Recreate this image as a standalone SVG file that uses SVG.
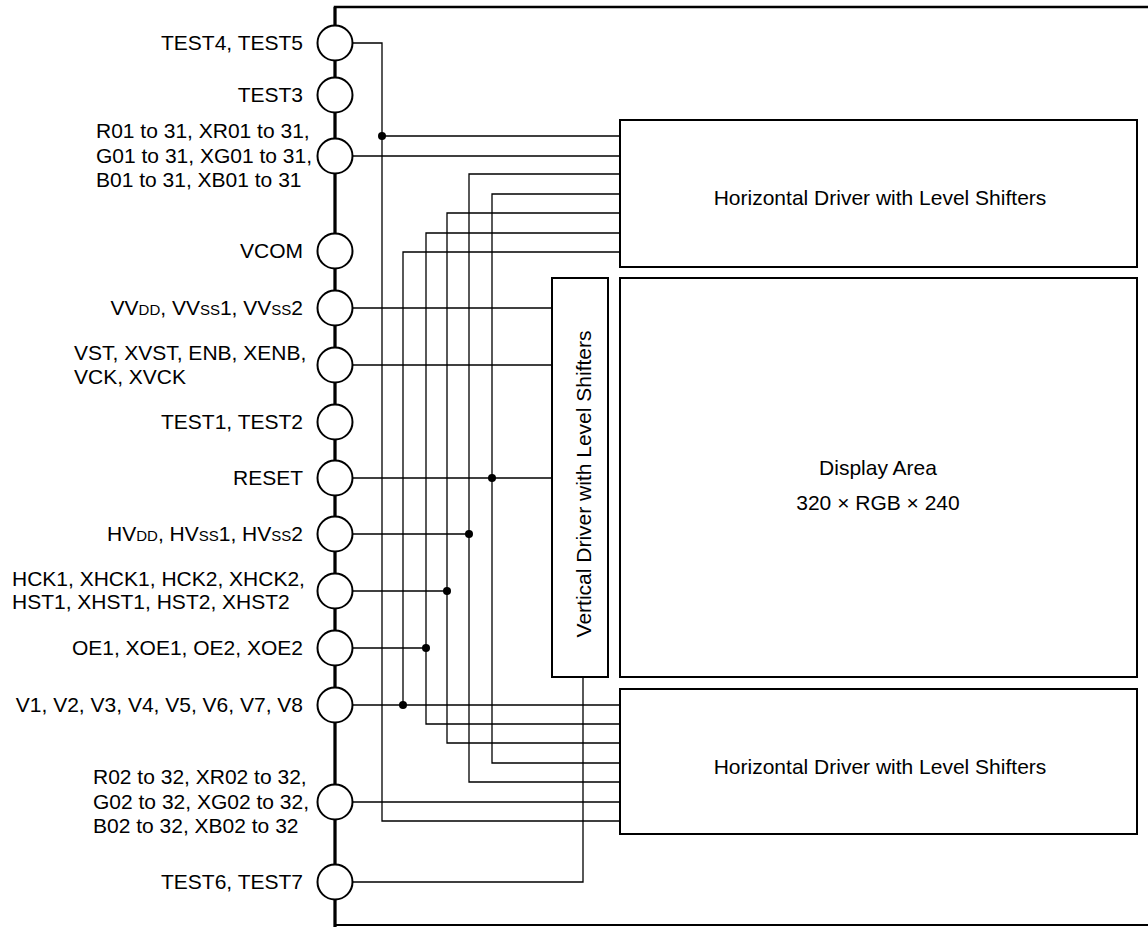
<svg xmlns="http://www.w3.org/2000/svg" width="1148" height="927" viewBox="0 0 1148 927">
<style>
text{font-family:"Liberation Sans",Arial,sans-serif;font-size:21px;fill:#000}
.r{text-anchor:end}
.m{text-anchor:middle}
.sub{font-size:15px}
.pin{fill:#fff;stroke:#000;stroke-width:2}
.box{fill:#fff;stroke:#000;stroke-width:2}
.w{fill:none;stroke:#000;stroke-width:1.3}
.dot{fill:#000}
.frame{fill:none;stroke:#000}
</style>
<rect width="1148" height="927" fill="#fff"/>
<g id="frame">
<path class="frame" d="M335,927 V7 H1148" stroke-width="2.5"/>
<path class="frame" d="M335,925 H1148" stroke-width="2"/>
<path class="frame" d="M335,7 V927" stroke-width="3"/>
</g>
<g id="connectors">
<path class="w" d="M353,43 H382 V821 H620"/>
<path class="w" d="M382,136 H620"/>
<path class="w" d="M353,156 H620"/>
<path class="w" d="M620,174 H469 V782 H620"/>
<path class="w" d="M620,194 H492 V763 H620"/>
<path class="w" d="M620,213 H447 V743 H620"/>
<path class="w" d="M620,233 H426 V724 H620"/>
<path class="w" d="M620,252 H403 V705"/>
<path class="w" d="M353,308 H552"/>
<path class="w" d="M353,365 H552"/>
<path class="w" d="M353,478 H552"/>
<path class="w" d="M353,534 H469"/>
<path class="w" d="M353,591 H447"/>
<path class="w" d="M353,648 H426"/>
<path class="w" d="M353,705 H620"/>
<path class="w" d="M353,802 H620"/>
<path class="w" d="M353,882 H583 V677"/>
<circle class="dot" cx="382" cy="136" r="4"/>
<circle class="dot" cx="492" cy="478" r="4"/>
<circle class="dot" cx="469" cy="534" r="4"/>
<circle class="dot" cx="447" cy="591" r="4"/>
<circle class="dot" cx="426" cy="648" r="4"/>
<circle class="dot" cx="403" cy="705" r="4"/>
</g>
<g id="hdriver-top"><rect class="box" x="620" y="120" width="517" height="147"/><text class="m" x="880" y="205">Horizontal Driver with Level Shifters</text></g>
<g id="vdriver"><rect class="box" x="552" y="278" width="56" height="399"/><text class="m" transform="translate(591,484) rotate(-90)">Vertical Driver with Level Shifters</text></g>
<g id="display"><rect class="box" x="620" y="278" width="517" height="399"/><text class="m" x="878" y="475">Display Area</text><text class="m" x="878" y="510">320 × RGB × 240</text></g>
<g id="hdriver-bottom"><rect class="box" x="620" y="689" width="517" height="145"/><text class="m" x="880" y="774">Horizontal Driver with Level Shifters</text></g>
<g id="pin-test45"><circle class="pin" cx="335" cy="43" r="17.5"/><text class="r" x="303" y="50">TEST4, TEST5</text></g>
<g id="pin-test3"><circle class="pin" cx="335" cy="95" r="17.5"/><text class="r" x="303" y="102">TEST3</text></g>
<g id="pin-r01"><circle class="pin" cx="335" cy="156" r="17.5"/><text x="96" y="138">R01 to 31, XR01 to 31,</text><text x="96" y="163">G01 to 31, XG01 to 31,</text><text x="96" y="187">B01 to 31, XB01 to 31</text></g>
<g id="pin-vcom"><circle class="pin" cx="335" cy="251" r="17.5"/><text class="r" x="303" y="258">VCOM</text></g>
<g id="pin-vvdd"><circle class="pin" cx="335" cy="308" r="17.5"/><text class="r" x="303" y="315">VV<tspan class="sub">DD</tspan>, VV<tspan class="sub">SS</tspan>1, VV<tspan class="sub">SS</tspan>2</text></g>
<g id="pin-vst"><circle class="pin" cx="335" cy="365" r="17.5"/><text x="74" y="360">VST, XVST, ENB, XENB,</text><text x="74" y="384">VCK, XVCK</text></g>
<g id="pin-test12"><circle class="pin" cx="335" cy="422" r="17.5"/><text class="r" x="303" y="429">TEST1, TEST2</text></g>
<g id="pin-reset"><circle class="pin" cx="335" cy="478" r="17.5"/><text class="r" x="303" y="485">RESET</text></g>
<g id="pin-hvdd"><circle class="pin" cx="335" cy="534" r="17.5"/><text class="r" x="303" y="541">HV<tspan class="sub">DD</tspan>, HV<tspan class="sub">SS</tspan>1, HV<tspan class="sub">SS</tspan>2</text></g>
<g id="pin-hck"><circle class="pin" cx="335" cy="591" r="17.5"/><text x="12" y="586">HCK1, XHCK1, HCK2, XHCK2,</text><text x="12" y="609">HST1, XHST1, HST2, XHST2</text></g>
<g id="pin-oe"><circle class="pin" cx="335" cy="648" r="17.5"/><text class="r" x="303" y="655">OE1, XOE1, OE2, XOE2</text></g>
<g id="pin-v"><circle class="pin" cx="335" cy="705" r="17.5"/><text class="r" x="303" y="712">V1, V2, V3, V4, V5, V6, V7, V8</text></g>
<g id="pin-r02"><circle class="pin" cx="335" cy="802" r="17.5"/><text x="93" y="784">R02 to 32, XR02 to 32,</text><text x="93" y="809">G02 to 32, XG02 to 32,</text><text x="93" y="833">B02 to 32, XB02 to 32</text></g>
<g id="pin-test67"><circle class="pin" cx="335" cy="882" r="17.5"/><text class="r" x="303" y="889">TEST6, TEST7</text></g>
</svg>
